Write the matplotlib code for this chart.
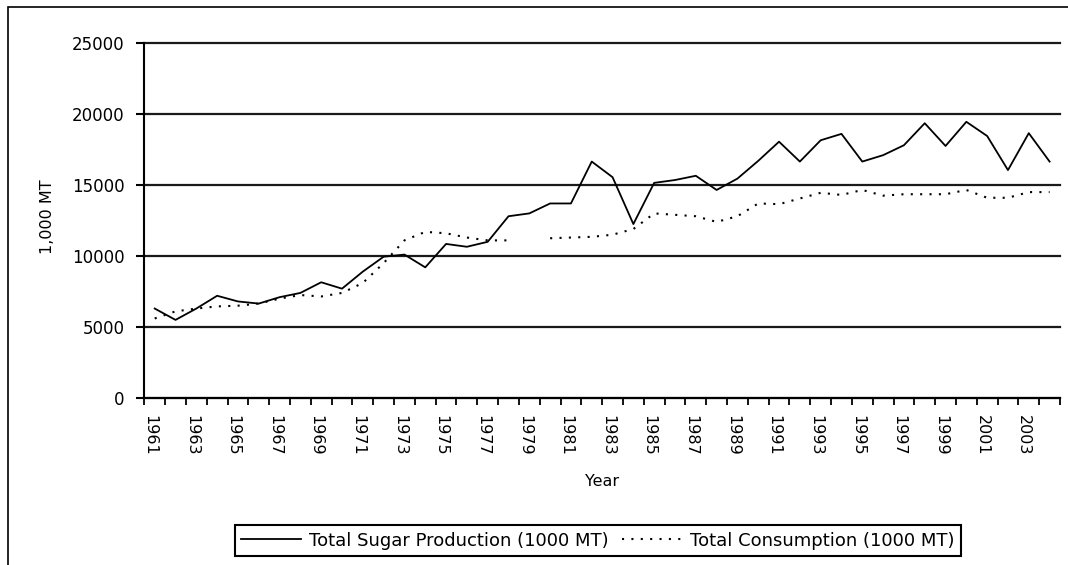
#!/usr/bin/env python3

import numpy as np
import matplotlib
matplotlib.use("Agg")
import matplotlib.pyplot as plt
import matplotlib.transforms as mtransforms
from matplotlib.patches import Rectangle

years = list(range(1961, 2005))

# Total sugar production (1000 MT)
production = [6300, 5500, 6300, 7200, 6800, 6650, 7100, 7400, 8150, 7700,
              8900, 9950, 10100, 9200, 10850, 10650, 11000, 12800, 13000, 13700,
              13700, 16650, 15550, 12250, 15150, 15350, 15650, 14650, 15450, 16700,
              18050, 16650, 18150, 18600, 16650, 17100, 17800, 19350, 17750, 19450,
              18450, 16050, 18650, 16650]

# Total consumption (1000 MT), 1979 is missing in the source
consumption = [5600, 6100, 6300, 6450, 6500, 6650, 7000, 7250, 7150, 7400,
               8100, 9500, 11100, 11700, 11600, 11300, 11100, 11100, np.nan, 11250,
               11300, 11350, 11500, 11900, 13000, 12900, 12800, 12400, 12800, 13700,
               13650, 14050, 14450, 14300, 14650, 14250, 14350, 14350, 14350, 14650,
               14100, 14100, 14500, 14500]

y_ticks = [0, 5000, 10000, 15000, 20000, 25000]


def main():
    W, H = 1068, 565
    fig = plt.figure(figsize=(W / 100, H / 100), dpi=100)
    ax = fig.add_axes([144.3 / W, 1 - 398 / H, (1060 - 144.3) / W, (398 - 43) / H])

    x = np.arange(len(years))
    ax.plot(x, production, color="black", lw=1.3, label="Total Sugar Production (1000 MT)")
    ax.plot(x, consumption, color="black", lw=1.5, linestyle=(0, (1, 3.5)),
            label="Total Consumption (1000 MT)")

    ax.set_xlim(-0.5, len(years) - 0.5)
    ax.set_ylim(0, 25000)

    # y axis + horizontal grid
    ax.set_yticks(y_ticks)
    ax.set_yticklabels([str(v) for v in y_ticks])
    ax.tick_params(axis="y", direction="out", length=6, width=1.5, pad=8, labelsize=12)
    ax.grid(axis="y", color="#1a1a1a", lw=1.6)
    for gl in ax.get_ygridlines():
        gl.set_clip_on(False)

    # x axis: tick marks between categories, labels every second year
    ax.set_xticks(np.arange(-0.5, len(years), 1))
    ax.set_xticklabels([])
    ax.tick_params(axis="x", which="major", direction="out", length=5, width=1.3)
    ax.set_xticks(x[::2], minor=True)
    ax.set_xticklabels([str(y) for y in years[::2]], minor=True, rotation=270, fontsize=11.5)
    ax.tick_params(axis="x", which="minor", length=0, pad=12)
    shift = mtransforms.ScaledTranslation(-5 / 100, 0, fig.dpi_scale_trans)
    for lab in ax.xaxis.get_minorticklabels():
        lab.set_transform(lab.get_transform() + shift)

    for s in ["top", "right"]:
        ax.spines[s].set_visible(False)
    for s in ["left", "bottom"]:
        ax.spines[s].set_linewidth(1.5)
        ax.spines[s].set_color("black")

    fig.text(48 / W, 1 - 217 / H, "1,000 MT", rotation=90, ha="center", va="center", fontsize=11.5)
    fig.text(602 / W, 1 - 482 / H, "Year", ha="center", va="center", fontsize=11.5)

    fig.legend(loc="center", bbox_to_anchor=(598 / W, 1 - 540.5 / H), ncol=2,
               fontsize=13, frameon=True, fancybox=False, edgecolor="black",
               handlelength=3.3, handletextpad=0.45, columnspacing=0.75,
               borderpad=0.35, framealpha=1)
    leg = fig.legends[0]
    leg.get_frame().set_linewidth(1.5)

    # outer chart-area border (runs off the right and bottom edge)
    fig.add_artist(Rectangle((8 / W, -0.05), 1.0, 1 - 7 / H + 0.05, transform=fig.transFigure,
                             fill=False, ec="black", lw=1.2))

    fig.savefig("out.png", dpi=100)


if __name__ == "__main__":
    main()
